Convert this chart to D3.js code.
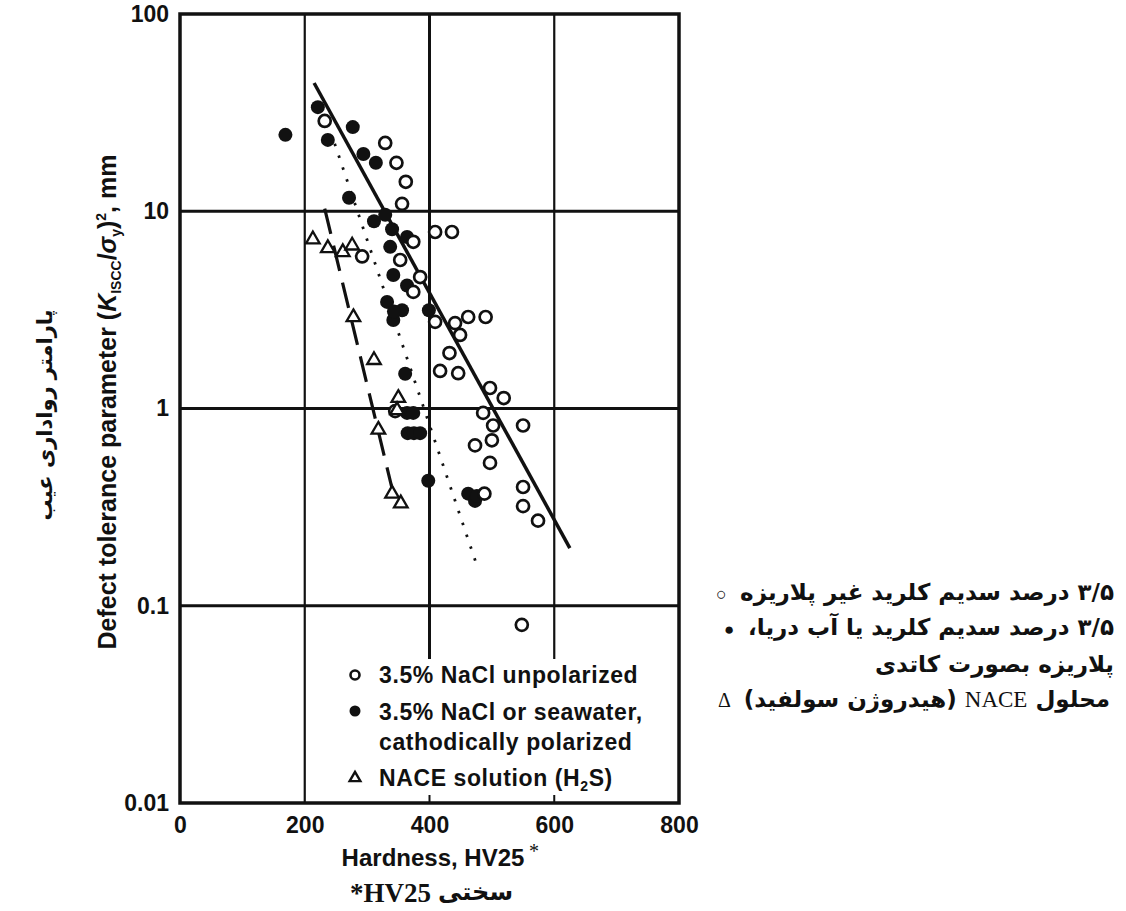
<!DOCTYPE html>
<meta charset="utf-8">
<html>
<head>
<title>defect tolerance vs hardness</title>
<style>
body { margin: 0; background: #fff; }
svg text { font-family: "Liberation Sans", Arial, sans-serif; font-weight: bold; fill: #111; }
svg text.tick { font-family: "Liberation Sans Narrow", "Liberation Sans", sans-serif; font-size: 23px; }
svg text.fa { font-family: "DejaVu Sans", sans-serif; }
svg .serif { font-family: "Liberation Serif", "Times New Roman", serif; }
</style>
</head>
<body>
<svg class="chart" width="1126" height="911"></svg>

<script src="https://cdn.jsdelivr.net/npm/d3@7"></script>
<script>

// axis ticks
const hvTicks = [0, 200, 400, 600, 800]
const kTicks = [100, 10, 1, 0.1, 0.01]
const kTickLabels = ["100", "10", "1", "0.1", "0.01"]

// [hardness HV25, (K_ISCC/sy)^2 mm]
const unpolarized = [
[232,28.7],[329,22.2],[347,17.6],[362,14.1],[356,10.9],[409,7.85],[436,7.85],
[374,7.0],[292,5.9],[353,5.66],[385,4.64],[374,3.9],[409,2.75],[441,2.71],
[462,2.91],[490,2.91],[449,2.36],[432,1.91],[417,1.55],[446,1.51],[497,1.27],
[519,1.13],[486,0.95],[502,0.82],[550,0.82],[500,0.69],[473,0.65],[497,0.53],
[488,0.37],[550,0.40],[550,0.32],[574,0.27],[548,0.08],[345,0.97]
]

const polarized = [
[169,24.4],[221,33.7],[237,23],[277,26.7],[294,19.5],[314,17.6],[271,11.7],
[311,8.9],[329,9.6],[340,8.1],[364,7.4],[337,6.6],[342,4.75],[364,4.2],
[332,3.47],[356,3.15],[342,2.81],[343,3.1],[399,3.15],[361,1.5],[364,0.95],
[374,0.95],[365,0.75],[375,0.75],[385,0.75],[398,0.43],[462,0.37],[473,0.34],[476,0.36]
]

const nace = [
[213,7.2],[237,6.5],[261,6.2],[276,6.7],[278,2.9],[311,1.76],[350,1.13],
[348,0.98],[318,0.78],[340,0.37],[354,0.33]
]

// fitted lines
const solidFit = [[215,44.7],[625,0.196]]
const dottedFit = [[248,22],[476,0.16]]
const dashedFit = [[232,10.3],[342,0.37]]

const legendEn = ["3.5% NaCl unpolarized", "3.5% NaCl or seawater,", "cathodically polarized", "NACE solution (H"]
const legendFa = ["۳/۵ درصد سدیم کلرید غیر پلاریزه", "۳/۵ درصد سدیم کلرید یا آب دریا،", "پلاریزه بصورت کاتدی"]

var svg = d3.select("svg.chart")

var x = d3.scaleLinear().domain([0, 800]).range([180, 679])
var y = d3.scaleLog().domain([0.01, 100]).range([803, 14])

// grid
svg.append("g").selectAll("line")
  .data(kTicks.slice(1, 4))
  .enter().append("line")
  .attr("x1", x(0)).attr("x2", x(800))
  .attr("y1", (d) => y(d)).attr("y2", (d) => y(d))
  .attr("stroke", "#111").attr("stroke-width", 3)

svg.append("g").selectAll("line")
  .data(hvTicks.slice(1, 4))
  .enter().append("line")
  .attr("x1", (d) => x(d)).attr("x2", (d) => x(d))
  .attr("y1", y(100)).attr("y2", y(0.01))
  .attr("stroke", "#111").attr("stroke-width", (d) => d == 400 ? 3 : 2.2)

// white legend box covers the grid
svg.append("rect")
  .attr("x", 346).attr("y", 659)
  .attr("width", x(800) - 346).attr("height", y(0.01) - 659)
  .attr("fill", "#fff")

svg.append("g").selectAll("line")
  .data([400, 600])
  .enter().append("line")
  .attr("x1", (d) => x(d)).attr("x2", (d) => x(d))
  .attr("y1", y(0.01) - 8).attr("y2", y(0.01))
  .attr("stroke", "#111").attr("stroke-width", 2)

// axes (labels only)
var yAxis = svg.append("g")
  .attr("transform", "translate(" + x(0) + ",0)")
  .call(d3.axisLeft(y).tickValues(kTicks).tickFormat((d, i) => kTickLabels[i]).tickSize(0).tickPadding(11))
var xAxis = svg.append("g")
  .attr("transform", "translate(0," + y(0.01) + ")")
  .call(d3.axisBottom(x).tickValues(hvTicks).tickFormat(d3.format("d")).tickSize(0).tickPadding(14))
svg.selectAll(".domain").remove()
svg.selectAll(".tick text").attr("class", "tick").attr("fill", "#111")
xAxis.attr("font-family", null).attr("font-size", null)
yAxis.attr("font-family", null).attr("font-size", null)

// fit lines
var line = d3.line().x((d) => x(d[0])).y((d) => y(d[1]))
svg.append("path").datum(solidFit).attr("d", line)
  .attr("fill", "none").attr("stroke", "#111").attr("stroke-width", 3.5)
svg.append("path").datum(dottedFit).attr("d", line)
  .attr("fill", "none").attr("stroke", "#111").attr("stroke-width", 2.8)
  .attr("stroke-dasharray", "2.5 10")
svg.append("path").datum(dashedFit).attr("d", line)
  .attr("fill", "none").attr("stroke", "#111").attr("stroke-width", 3.2)
  .attr("stroke-dasharray", "26 12")

// points
svg.append("g").selectAll("circle")
  .data(polarized)
  .enter().append("circle")
  .attr("cx", (d) => x(d[0])).attr("cy", (d) => y(d[1]))
  .attr("r", 7).attr("fill", "#111")

svg.append("g").selectAll("circle")
  .data(unpolarized)
  .enter().append("circle")
  .attr("cx", (d) => x(d[0])).attr("cy", (d) => y(d[1]))
  .attr("r", 6).attr("fill", "#fff").attr("stroke", "#111").attr("stroke-width", 2.7)

var tri = d3.symbol(d3.symbolTriangle).size(80)
svg.append("g").selectAll("path")
  .data(nace)
  .enter().append("path")
  .attr("d", tri)
  .attr("transform", (d) => "translate(" + x(d[0]) + "," + y(d[1]) + ")")
  .attr("fill", "#fff").attr("stroke", "#111").attr("stroke-width", 2.3)

// frame
svg.append("rect")
  .attr("x", x(0)).attr("y", y(100))
  .attr("width", x(800) - x(0)).attr("height", y(0.01) - y(100))
  .attr("fill", "none").attr("stroke", "#111").attr("stroke-width", 3.5)

// legend in the plot
var lg = svg.append("g").attr("transform", "translate(355,0)")
lg.append("circle").attr("cx", 0).attr("cy", 675).attr("r", 4.5)
  .attr("fill", "#fff").attr("stroke", "#111").attr("stroke-width", 2.6)
lg.append("circle").attr("cx", 0).attr("cy", 711).attr("r", 5.5).attr("fill", "#111")
lg.append("path").attr("d", d3.symbol(d3.symbolTriangle).size(50))
  .attr("transform", "translate(0,778)")
  .attr("fill", "#fff").attr("stroke", "#111").attr("stroke-width", 2.4)
var rows = [683, 720, 750, 786]
legendEn.forEach((t, i) => {
  var tx = lg.append("text").attr("x", 24).attr("y", rows[i])
    .style("font-size", "23px").style("letter-spacing", "0.6px").text(t)
  if (i == 3) {
    tx.append("tspan").attr("dy", 5).style("font-size", "14px").text("2")
    tx.append("tspan").attr("dy", -5).text("S)")
  }
})

// axis titles
var yTitle = svg.append("text")
  .attr("transform", "translate(116,402) rotate(-90)")
  .attr("text-anchor", "middle")
  .style("font-size", "25px")
yTitle.append("tspan").text("Defect tolerance parameter (")
yTitle.append("tspan").style("font-style", "italic").text("K")
yTitle.append("tspan").attr("dy", 5).style("font-size", "14px").text("ISCC")
yTitle.append("tspan").attr("dy", -5).text("/")
yTitle.append("tspan").style("font-style", "italic").text("σ")
yTitle.append("tspan").attr("dy", 5).style("font-size", "14px").text("y")
yTitle.append("tspan").attr("dy", -5).text(")")
yTitle.append("tspan").attr("dy", -10).style("font-size", "14px").text("2")
yTitle.append("tspan").attr("dy", 10).text(", mm")

svg.append("text")
  .attr("class", "fa")
  .attr("transform", "translate(52,415) rotate(-90)")
  .attr("text-anchor", "middle")
  .style("font-size", "21px")
  .text("پارامتر رواداری عیب")

svg.append("text")
  .attr("x", 433).attr("y", 866)
  .attr("text-anchor", "middle")
  .style("font-size", "24px")
  .text("Hardness, HV25")
svg.append("text")
  .attr("class", "serif")
  .attr("x", 534).attr("y", 858)
  .attr("text-anchor", "middle")
  .style("font-size", "20px").style("font-weight", "normal")
  .text("*")

svg.append("text")
  .attr("class", "serif")
  .attr("x", 350).attr("y", 902)
  .style("font-size", "27px")
  .text("*HV25")
svg.append("text")
  .attr("class", "fa")
  .attr("x", 513).attr("y", 900)
  .attr("text-anchor", "end")
  .style("font-size", "24px")
  .text("سختی")

// persian legend on the right
var fa = svg.append("g")
var faRows = [600, 635, 672, 707]
fa.append("text").attr("x", 716).attr("y", faRows[0]).style("font-size", "18px").style("font-weight", "normal").text("○")
fa.append("text").attr("x", 724).attr("y", faRows[1]).style("font-size", "17px").text("●")
fa.append("text").attr("class", "serif").attr("x", 718).attr("y", faRows[3]).style("font-size", "20px").style("font-weight", "normal").text("Δ")
legendFa.forEach((t, i) => {
  fa.append("text")
    .attr("class", "fa")
    .attr("x", 1114).attr("y", faRows[i])
    .attr("direction", "rtl")
    .attr("text-anchor", "start")
    .style("font-size", "23px")
    .text(t)
})
var nl = fa.append("text")
  .attr("class", "fa")
  .attr("x", 1110).attr("y", faRows[3])
  .attr("direction", "rtl")
  .attr("text-anchor", "start")
  .style("font-size", "23px")
nl.append("tspan").text("محلول ")
nl.append("tspan").attr("class", "serif").style("font-weight", "normal").text("NACE")
nl.append("tspan").text(" (هیدروژن سولفید)")

</script>
</body>
</html>
